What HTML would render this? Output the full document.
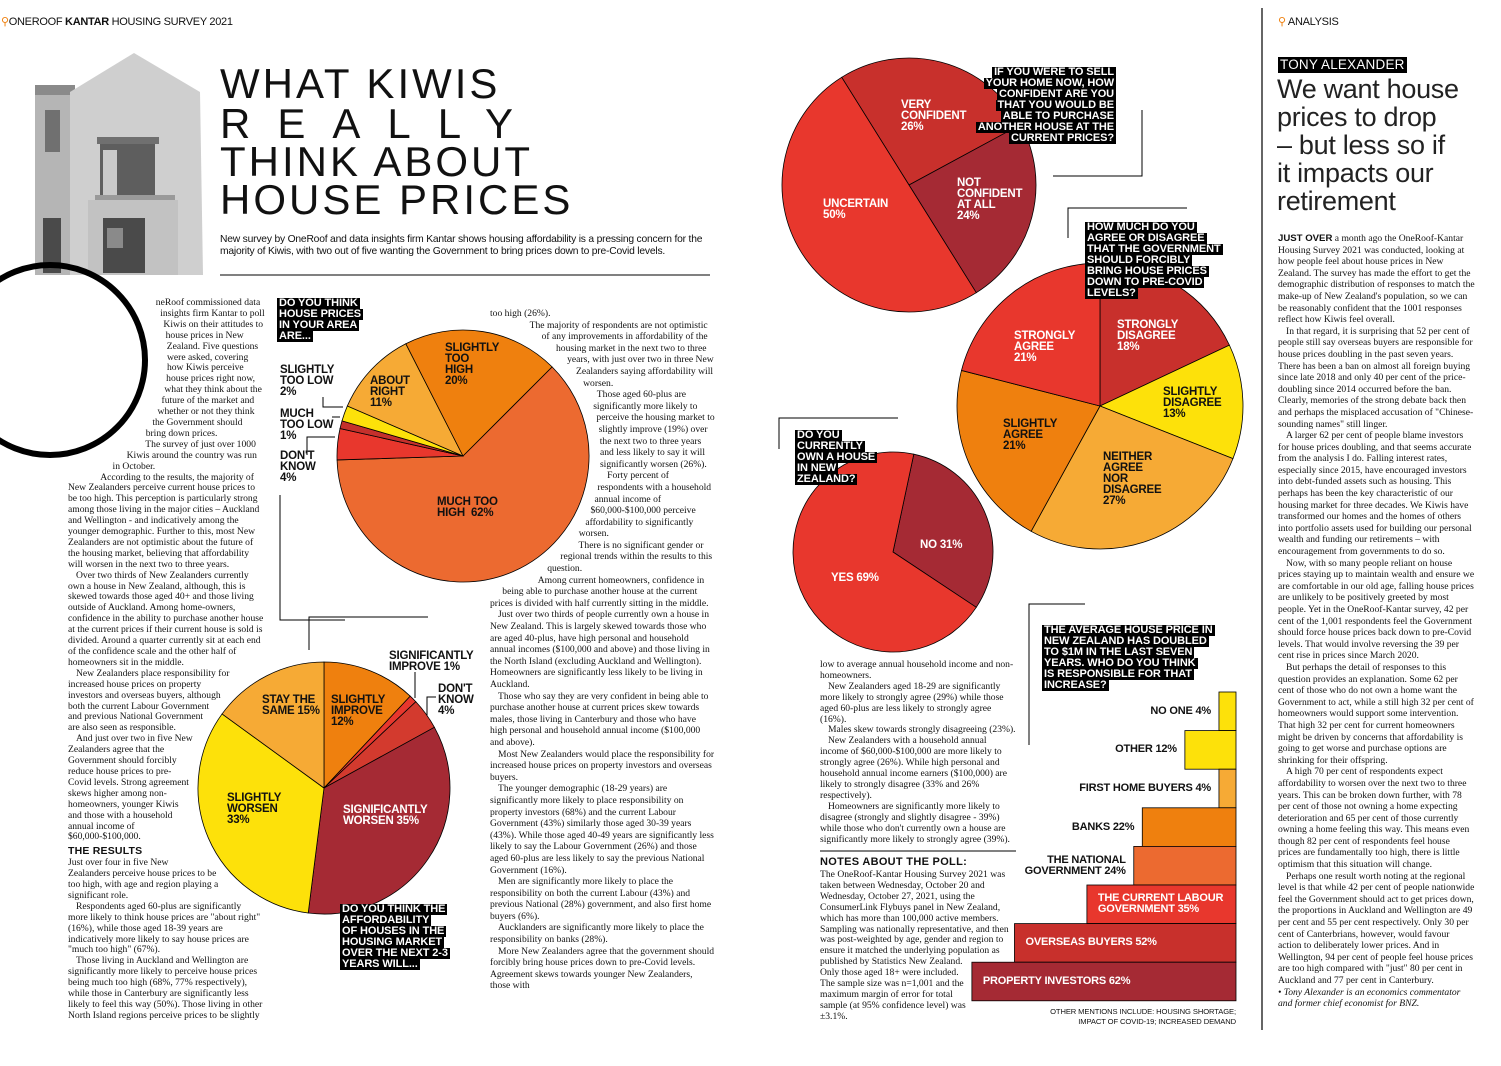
<!DOCTYPE html>
<html><head><meta charset="utf-8">
<style>
*{margin:0;padding:0;box-sizing:border-box}
html,body{width:1501px;height:1066px;background:#fff;overflow:hidden}
body{position:relative;font-family:"Liberation Sans",sans-serif;color:#111}
.abs{position:absolute}
.body{font-family:"Liberation Serif",serif;font-size:9.6px;line-height:10.9px;color:#111}
.body p{text-indent:8px}
.body p.ni{text-indent:0}
.lbl{position:absolute;font-weight:bold;font-size:11.5px;line-height:11px;letter-spacing:-0.2px;text-transform:uppercase;color:#111;z-index:3}
.w{color:#fff}
.q{position:absolute;z-index:4;font-weight:bold;font-size:11px;line-height:11px;text-transform:uppercase;letter-spacing:-0.1px}
.q span{display:block;width:fit-content;background:#000;color:#fff;padding:0 2px}
.q.r span{margin-left:auto}
.title{position:absolute;left:220px;font-size:42px;line-height:40px;letter-spacing:3px;color:#111;font-weight:normal}
h4{font-size:10.5px;font-weight:bold;font-family:"Liberation Sans",sans-serif;margin:3px 0 1px;letter-spacing:.2px}
svg{position:absolute;left:0;top:0}
</style></head>
<body>
<svg width="1501" height="1066" id="chart">
  <g>
    <rect x="35" y="85" width="40" height="190" fill="#b5b5b5"/>
    <rect x="35" y="85" width="40" height="10" fill="#8a8a8a"/>
    <polygon points="70,92 134,53 200,92 203,275 70,275" fill="#cfcfcf"/>
    <rect x="100" y="140" width="55" height="55" fill="#5e5e5e"/>
    <rect x="103" y="150" width="14" height="45" fill="#c9c9c9"/>
    <rect x="97" y="137" width="62" height="7" fill="#707070"/>
    <rect x="95" y="195" width="80" height="5" fill="#9a9a9a"/>
    <rect x="45" y="110" width="15" height="42" fill="#707070"/>
    <rect x="88" y="200" width="90" height="75" fill="#c2c2c2"/>
    <rect x="103" y="218" width="42" height="55" fill="#4a4a4a"/>
    <rect x="43" y="218" width="18" height="55" fill="#4a4a4a"/>
    <rect x="107" y="228" width="16" height="20" fill="#8a8a8a"/>
  </g>
  <circle cx="50" cy="360" r="95" fill="none" stroke="#000" stroke-width="6"/>
  <line x1="220" y1="275" x2="710" y2="275" stroke="#000" stroke-width="1"/>
  <line x1="1262" y1="8" x2="1262" y2="1030" stroke="#000" stroke-width="1.2"/>
  <g stroke="#000" stroke-width="1" fill="none">
    <polyline points="280,495 280,620 345,620"/>
    <polyline points="323,397 323,407 343,407"/>
    <polyline points="332,417 340,417"/>
    <polyline points="307,455 307,437 335,437"/>
    <polyline points="428,617 309,617 309,650"/>
    <polyline points="415,672 415,698"/>
    <polyline points="436,697 427,697 427,727"/>
    <polyline points="1142,110 1142,176 1053,176"/>
    <polyline points="1187,208 1068,208 1068,238"/>
    <polyline points="898,418 779,418 779,449"/>
    <polyline points="1085,604 1029,604 1029,745"/>
    <line x1="820" y1="851" x2="1016" y2="851"/>
  </g>
  <g id="marks"></g>
</svg>

<div class="abs" style="left:1px;top:15px;font-size:11px;letter-spacing:-0.3px"><span style="color:#ef800e">&#9906;</span>ONEROOF <b>KANTAR</b> HOUSING SURVEY 2021</div>
<div class="abs" style="left:1278px;top:15px;font-size:11px;letter-spacing:-0.3px"><span style="color:#ef800e">&#9906;</span> ANALYSIS</div>

<div class="title" style="top:64px">WHAT KIWIS</div>
<div class="title" style="top:104px;letter-spacing:27px">REALLY</div>
<div class="title" style="top:142px">THINK ABOUT</div>
<div class="title" style="top:180px">HOUSE PRICES</div>
<div class="abs" style="left:220px;top:234px;width:495px;font-size:10.3px;line-height:11.5px;letter-spacing:-0.2px">New survey by OneRoof and data insights firm Kantar shows housing affordability is a pressing concern for the majority of Kiwis, with two out of five wanting the Government to bring prices down to pre-Covid levels.</div>

<!-- column 1 -->
<div class="abs body" style="left:68px;top:298px;width:197px;height:735px;overflow:hidden">
<div style="float:left;width:100px;height:184px;shape-outside:circle(122px at -23px 62px)"></div>
<div style="float:right;width:0;height:358px"></div>
<div style="float:right;clear:right;width:73px;height:264px;shape-outside:circle(132px at 132px 132px)"></div>
<p class="ni">neRoof commissioned data insights firm Kantar to poll Kiwis on their attitudes to house prices in New Zealand. Five questions were asked, covering how Kiwis perceive house prices right now, what they think about the future of the market and whether or not they think the Government should bring down prices.</p>
<p>The survey of just over 1000 Kiwis around the country was run in October.</p>
<p>According to the results, the majority of New Zealanders perceive current house prices to be too high. This perception is particularly strong among those living in the major cities – Auckland and Wellington - and indicatively among the younger demographic. Further to this, most New Zealanders are not optimistic about the future of the housing market, believing that affordability will worsen in the next two to three years.</p>
<p>Over two thirds of New Zealanders currently own a house in New Zealand, although, this is skewed towards those aged 40+ and those living outside of Auckland. Among home-owners, confidence in the ability to purchase another house at the current prices if their current house is sold is divided. Around a quarter currently sit at each end of the confidence scale and the other half of homeowners sit in the middle.</p>
<p>New Zealanders place responsibility for increased house prices on property investors and overseas buyers, although both the current Labour Government and previous National Government are also seen as responsible.</p>
<p>And just over two in five New Zealanders agree that the Government should forcibly reduce house prices to pre-Covid levels. Strong agreement skews higher among non-homeowners, younger Kiwis and those with a household annual income of $60,000-$100,000.</p>
<h4>THE RESULTS</h4>
<p class="ni">Just over four in five New Zealanders perceive house prices to be too high, with age and region playing a significant role.</p>
<p>Respondents aged 60-plus are significantly more likely to think house prices are "about right" (16%), while those aged 18-39 years are indicatively more likely to say house prices are "much too high" (67%).</p>
<p>Those living in Auckland and Wellington are significantly more likely to perceive house prices being much too high (68%, 77% respectively), while those in Canterbury are significantly less likely to feel this way (50%). Those living in other North Island regions perceive prices to be slightly</p>
</div>

<!-- column 2 -->
<div class="abs body" style="left:490px;top:308px;width:225px;height:725px;overflow:hidden;line-height:11.6px">
<div style="float:left;width:110px;height:300px;shape-outside:circle(137px at -27px 147px)"></div>
<p class="ni">too high (26%).</p>
<p>The majority of respondents are not optimistic of any improvements in affordability of the housing market in the next two to three years, with just over two in three New Zealanders saying affordability will worsen.</p>
<p>Those aged 60-plus are significantly more likely to perceive the housing market to slightly improve (19%) over the next two to three years and less likely to say it will significantly worsen (26%).</p>
<p>Forty percent of respondents with a household annual income of $60,000-$100,000 perceive affordability to significantly worsen.</p>
<p>There is no significant gender or regional trends within the results to this question.</p>
<p>Among current homeowners, confidence in being able to purchase another house at the current prices is divided with half currently sitting in the middle.</p>
<p>Just over two thirds of people currently own a house in New Zealand. This is largely skewed towards those who are aged 40-plus, have high personal and household annual incomes ($100,000 and above) and those living in the North Island (excluding Auckland and Wellington). Homeowners are significantly less likely to be living in Auckland.</p>
<p>Those who say they are very confident in being able to purchase another house at current prices skew towards males, those living in Canterbury and those who have high personal and household annual income ($100,000 and above).</p>
<p>Most New Zealanders would place the responsibility for increased house prices on property investors and overseas buyers.</p>
<p>The younger demographic (18-29 years) are significantly more likely to place responsibility on property investors (68%) and the current Labour Government (43%) similarly those aged 30-39 years (43%). While those aged 40-49 years are significantly less likely to say the Labour Government (26%) and those aged 60-plus are less likely to say the previous National Government (16%).</p>
<p>Men are significantly more likely to place the responsibility on both the current Labour (43%) and previous National (28%) government, and also first home buyers (6%).</p>
<p>Aucklanders are significantly more likely to place the responsibility on banks (28%).</p>
<p>More New Zealanders agree that the government should forcibly bring house prices down to pre-Covid levels. Agreement skews towards younger New Zealanders, those with</p>
</div>

<!-- column 3 -->
<div class="abs body" style="left:820px;top:660px;width:196px">
<p class="ni">low to average annual household income and non-homeowners.</p>
<p>New Zealanders aged 18-29 are significantly more likely to strongly agree (29%) while those aged 60-plus are less likely to strongly agree (16%).</p>
<p>Males skew towards strongly disagreeing (23%).</p>
<p>New Zealanders with a household annual income of $60,000-$100,000 are more likely to strongly agree (26%). While high personal and household annual income earners ($100,000) are likely to strongly disagree (33% and 26% respectively).</p>
<p>Homeowners are significantly more likely to disagree (strongly and slightly disagree - 39%) while those who don't currently own a house are significantly more likely to strongly agree (39%).</p>
</div>
<div class="abs" style="left:820px;top:856px;font-weight:bold;font-size:11px;letter-spacing:.3px">NOTES ABOUT THE POLL:</div>
<div class="abs body" style="left:820px;top:870px;width:192px;height:160px;overflow:hidden">
<div style="float:right;width:0;height:88px"></div>
<div style="float:right;clear:right;width:46px;height:80px"></div>
<p class="ni">The OneRoof-Kantar Housing Survey 2021 was taken between Wednesday, October 20 and Wednesday, October 27, 2021, using the ConsumerLink Flybuys panel in New Zealand, which has more than 100,000 active members. Sampling was nationally representative, and then was post-weighted by age, gender and region to ensure it matched the underlying population as published by Statistics New Zealand. Only those aged 18+ were included. The sample size was n=1,001 and the maximum margin of error for total sample (at 95% confidence level) was ±3.1%.</p>
</div>

<!-- right column -->
<div class="abs" style="left:1278px;top:57px;height:16px;padding:0 2px;background:#000;color:#fff;font-size:13.5px;line-height:16px;letter-spacing:.2px">TONY ALEXANDER</div>
<div class="abs" style="left:1277px;top:75px;font-size:27px;line-height:28px;color:#222;letter-spacing:-0.3px">We want house<br>prices to drop<br>– but less so if<br>it impacts our<br>retirement</div>
<div class="abs body" style="left:1278px;top:233px;width:197px;line-height:11.6px">
<p class="ni"><b style="font-family:'Liberation Sans',sans-serif">JUST OVER</b> a month ago the OneRoof-Kantar Housing Survey 2021 was conducted, looking at how people feel about house prices in New Zealand. The survey has made the effort to get the demographic distribution of responses to match the make-up of New Zealand's population, so we can be reasonably confident that the 1001 responses reflect how Kiwis feel overall.</p>
<p>In that regard, it is surprising that 52 per cent of people still say overseas buyers are responsible for house prices doubling in the past seven years. There has been a ban on almost all foreign buying since late 2018 and only 40 per cent of the price-doubling since 2014 occurred before the ban. Clearly, memories of the strong debate back then and perhaps the misplaced accusation of "Chinese-sounding names" still linger.</p>
<p>A larger 62 per cent of people blame investors for house prices doubling, and that seems accurate from the analysis I do. Falling interest rates, especially since 2015, have encouraged investors into debt-funded assets such as housing. This perhaps has been the key characteristic of our housing market for three decades. We Kiwis have transformed our homes and the homes of others into portfolio assets used for building our personal wealth and funding our retirements – with encouragement from governments to do so.</p>
<p>Now, with so many people reliant on house prices staying up to maintain wealth and ensure we are comfortable in our old age, falling house prices are unlikely to be positively greeted by most people. Yet in the OneRoof-Kantar survey, 42 per cent of the 1,001 respondents feel the Government should force house prices back down to pre-Covid levels. That would involve reversing the 39 per cent rise in prices since March 2020.</p>
<p>But perhaps the detail of responses to this question provides an explanation. Some 62 per cent of those who do not own a home want the Government to act, while a still high 32 per cent of homeowners would support some intervention. That high 32 per cent for current homeowners might be driven by concerns that affordability is going to get worse and purchase options are shrinking for their offspring.</p>
<p>A high 70 per cent of respondents expect affordability to worsen over the next two to three years. This can be broken down further, with 78 per cent of those not owning a home expecting deterioration and 65 per cent of those currently owning a home feeling this way. This means even though 82 per cent of respondents feel house prices are fundamentally too high, there is little optimism that this situation will change.</p>
<p>Perhaps one result worth noting at the regional level is that while 42 per cent of people nationwide feel the Government should act to get prices down, the proportions in Auckland and Wellington are 49 per cent and 55 per cent respectively. Only 30 per cent of Canterbrians, however, would favour action to deliberately lower prices. And in Wellington, 94 per cent of people feel house prices are too high compared with "just" 80 per cent in Auckland and 77 per cent in Canterbury.</p>
<p class="ni"><i>• Tony Alexander is an economics commentator and former chief economist for BNZ.</i></p>
</div>

<!-- question boxes -->
<div class="q" style="left:277px;top:298px"><span>Do you think</span><span>house prices</span><span>in your area</span><span>are...</span></div>
<div class="q" style="left:340px;top:904px"><span>Do you think the</span><span>affordability</span><span>of houses in the</span><span>housing market</span><span>over the next 2-3</span><span>years will...</span></div>
<div class="q r" style="left:960px;top:67px;width:156px"><span>If you were to sell</span><span>your home now, how</span><span>confident are you</span><span>that you would be</span><span>able to purchase</span><span>another house at the</span><span>current prices?</span></div>
<div class="q" style="left:1085px;top:222px"><span>How much do you</span><span>agree or disagree</span><span>that the government</span><span>should forcibly</span><span>bring house prices</span><span>down to pre-Covid</span><span>levels?</span></div>
<div class="q" style="left:795px;top:430px"><span>Do you</span><span>currently</span><span>own a house</span><span>in New</span><span>Zealand?</span></div>
<div class="q" style="left:1042px;top:625px"><span>The average house price in</span><span>New Zealand has doubled</span><span>to $1m in the last seven</span><span>years. Who do you think</span><span>is responsible for that</span><span>increase?</span></div>

<!-- pie labels -->
<div class="lbl" style="left:280px;top:365px">Slightly<br>too low<br>2%</div>
<div class="lbl" style="left:280px;top:409px">Much<br>too low<br>1%</div>
<div class="lbl" style="left:280px;top:451px">Don't<br>know<br>4%</div>
<div class="lbl" style="left:370px;top:376px">About<br>right<br>11%</div>
<div class="lbl" style="left:445px;top:343px">Slightly<br>too<br>high<br>20%</div>
<div class="lbl" style="left:437px;top:497px">Much too<br>high &nbsp;62%</div>

<div class="lbl" style="left:262px;top:695px">Stay the<br>same 15%</div>
<div class="lbl" style="left:331px;top:695px">Slightly<br>improve<br>12%</div>
<div class="lbl" style="left:389px;top:651px">Significantly<br>improve 1%</div>
<div class="lbl" style="left:438px;top:684px">Don't<br>know<br>4%</div>
<div class="lbl w" style="left:343px;top:805px">Significantly<br>worsen 35%</div>
<div class="lbl" style="left:227px;top:793px">Slightly<br>worsen<br>33%</div>

<div class="lbl w" style="left:901px;top:100px">Very<br>confident<br>26%</div>
<div class="lbl w" style="left:957px;top:178px">Not<br>confident<br>at all<br>24%</div>
<div class="lbl w" style="left:823px;top:199px">Uncertain<br>50%</div>

<div class="lbl w" style="left:1014px;top:331px">Strongly<br>agree<br>21%</div>
<div class="lbl w" style="left:1117px;top:320px">Strongly<br>disagree<br>18%</div>
<div class="lbl" style="left:1163px;top:387px">Slightly<br>disagree<br>13%</div>
<div class="lbl" style="left:1003px;top:419px">Slightly<br>agree<br>21%</div>
<div class="lbl" style="left:1103px;top:452px">Neither<br>agree<br>nor<br>disagree<br>27%</div>

<div class="lbl w" style="left:920px;top:540px">No 31%</div>
<div class="lbl w" style="left:831px;top:573px">Yes 69%</div>

<div id="barLabels"></div>
<div class="abs" style="left:1000px;top:1007px;width:236px;text-align:right;font-size:7.6px;line-height:9.5px;letter-spacing:-0.1px">OTHER MENTIONS INCLUDE: HOUSING SHORTAGE;<br>IMPACT OF COVID-19; INCREASED DEMAND</div>

<script>
// Pie 1: house prices in your area
const pie1Cats = ["Much too high", "Don't know", "Much too low", "Slightly too low", "About right", "Slightly too high"];
const pie1Values = [62, 4, 1, 2, 11, 20];
// Pie 2: affordability over next 2-3 years
const pie2Cats = ["Slightly improve", "Significantly improve", "Don't know", "Significantly worsen", "Slightly worsen", "Stay the same"];
const pie2Values = [12, 1, 4, 35, 33, 15];
// Pie 3: confidence buying another house
const pie3Cats = ["Very confident", "Not confident at all", "Uncertain"];
const pie3Values = [26, 24, 50];
// Pie 4: agree government should bring prices down
const pie4Cats = ["Strongly disagree", "Slightly disagree", "Neither", "Slightly agree", "Strongly agree"];
const pie4Values = [18, 13, 27, 21, 21];
// Pie 5: own a house
const pie5Cats = ["No", "Yes"];
const pie5Values = [31, 69];
// Bar chart: who is responsible
const barCats = ["NO ONE", "OTHER", "FIRST HOME BUYERS", "BANKS", "THE NATIONAL|GOVERNMENT", "THE CURRENT LABOUR|GOVERNMENT", "OVERSEAS BUYERS", "PROPERTY INVESTORS"];
const barValues = [4, 12, 4, 22, 24, 35, 52, 62];

const NS = "http://www.w3.org/2000/svg";
const marks = document.getElementById("marks");

function drawPie(prefix, cx, cy, r, startDeg, values, colors) {
  const sum = values.reduce((a, b) => a + b, 0);
  let a = startDeg;
  const pt = d => [cx + r * Math.sin(d * Math.PI / 180), cy - r * Math.cos(d * Math.PI / 180)];
  values.forEach((v, i) => {
    const sweep = v / sum * 360;
    const p0 = pt(a), p1 = pt(a + sweep);
    const path = document.createElementNS(NS, "path");
    path.setAttribute("d", `M${cx},${cy} L${p0[0]},${p0[1]} A${r},${r} 0 ${sweep > 180 ? 1 : 0} 1 ${p1[0]},${p1[1]} Z`);
    path.setAttribute("fill", colors[i % colors.length]);
    path.setAttribute("stroke", "#000");
    path.setAttribute("stroke-width", "0.8");
    
    
    marks.appendChild(path);
    a += sweep;
  });
}

drawPie("pie1", 463, 456, 126, 45, pie1Values, ["#ec6a30", "#e8372d", "#c4302c", "#fde10a", "#f6aa35", "#ef800e"]);
drawPie("pie2", 324, 788, 126, 0, pie2Values, ["#ef800e", "#e8372d", "#d33a2e", "#a52a34", "#fde10a", "#f6aa35"]);
drawPie("pie3", 909, 185, 127, -32, pie3Values, ["#c8302c", "#a52a34", "#e8372d"]);
drawPie("pie4", 1100, 406, 143, 0, pie4Values, ["#c8302c", "#fde10a", "#f6aa35", "#ef800e", "#e8372d"]);
drawPie("pie5", 893, 552, 100, 12, pie5Values, ["#a52a34", "#e8372d"]);

// bar chart axis functions
const barRight = 1236, pxPerPct = 4.26, barTop = 692, rowH = 38.6;
const xLen = v => v * pxPerPct;
const yRow = i => barTop + i * rowH;
const barColors = ["#fde10a", "#fde10a", "#f6aa35", "#ef800e", "#ec6a30", "#e8372d", "#c8302c", "#a52a34"];
const labelsBox = document.getElementById("barLabels");
barValues.forEach((v, i) => {
  const w = xLen(v), x = barRight - w, y = yRow(i);
  const rect = document.createElementNS(NS, "rect");
  rect.setAttribute("x", x); rect.setAttribute("y", y);
  rect.setAttribute("width", w); rect.setAttribute("height", rowH);
  rect.setAttribute("fill", barColors[i]);
  rect.setAttribute("stroke", "#000");
  rect.setAttribute("stroke-width", "0.8");
  
  
  marks.appendChild(rect);
  const lines = barCats[i].split("|");
  lines[lines.length - 1] += " " + v + "%";
  const d = document.createElement("div");
  
  
  d.className = "lbl";
  d.style.fontSize = "11px";
  d.style.lineHeight = "11px";
  d.innerHTML = lines.join("<br>");
  const hh = lines.length * 11;
  d.style.top = (y + rowH / 2 - hh / 2) + "px";
  if (v >= 30) {
    d.style.left = (x + 11) + "px";
    d.style.color = "#fff";
  } else {
    d.style.right = (1501 - x + 8) + "px";
    d.style.textAlign = "right";
  }
  labelsBox.appendChild(d);
});
</script>
</body></html>
